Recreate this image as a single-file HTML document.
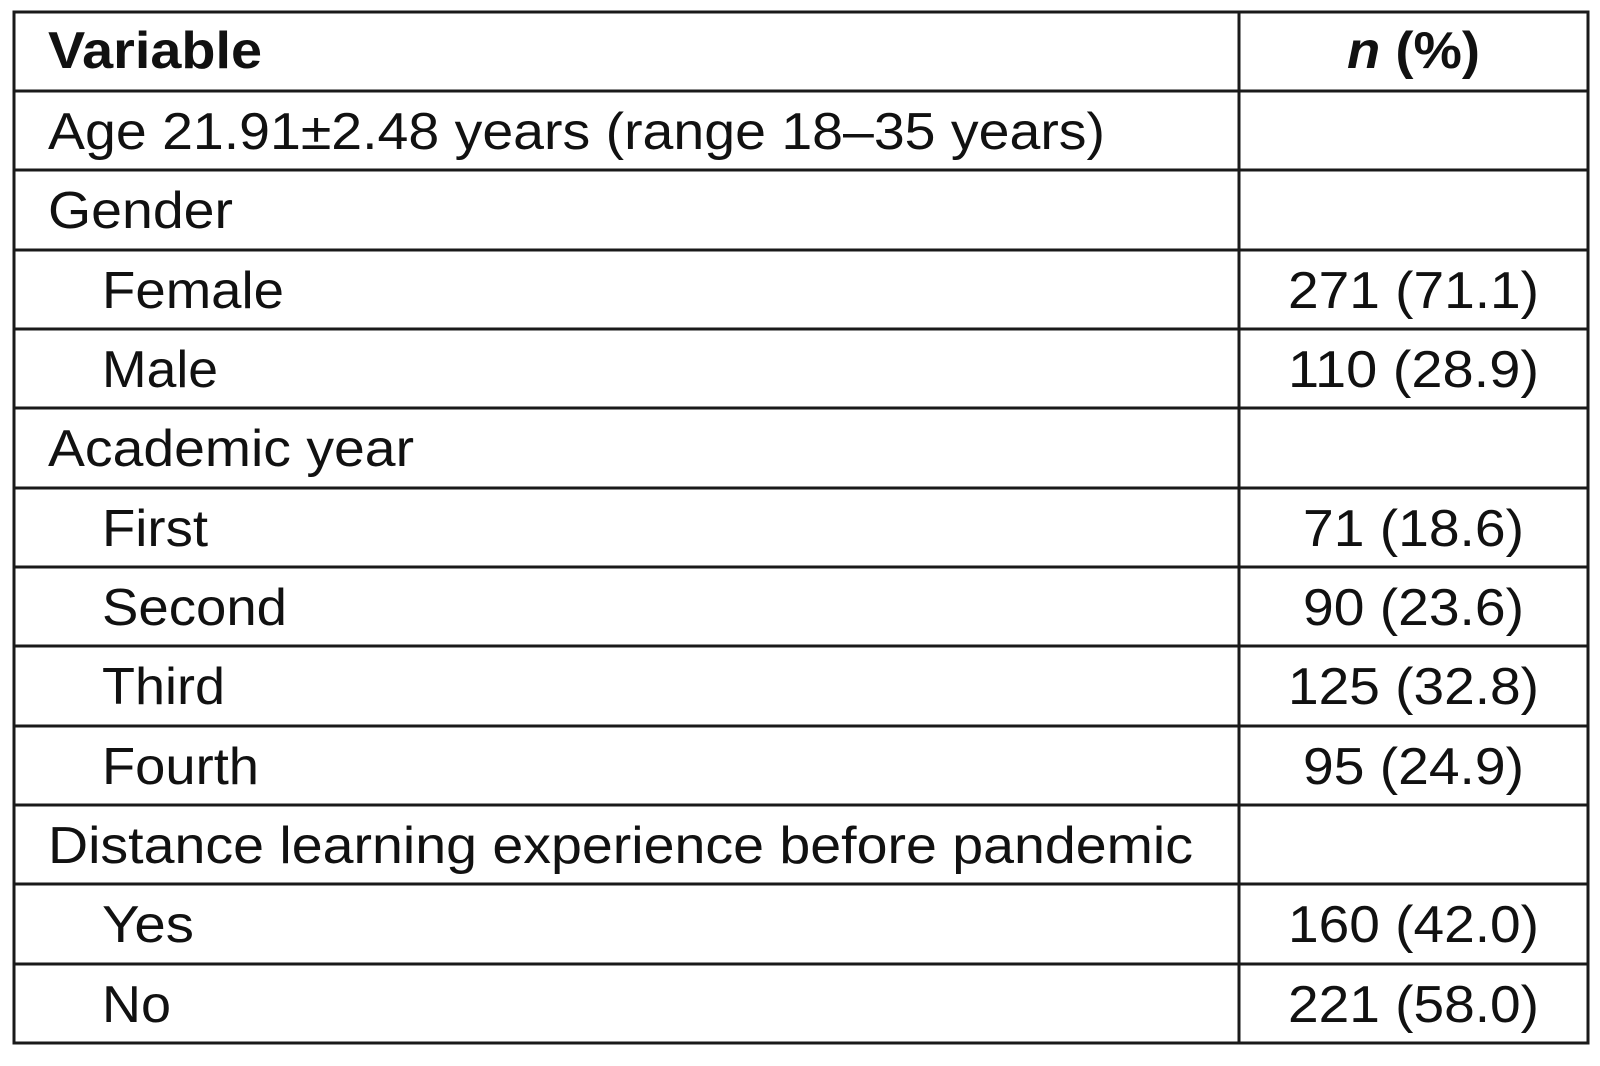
<!DOCTYPE html>
<html><head><meta charset="utf-8"><style>
html,body{margin:0;padding:0;background:#fff;}
svg{display:block}
text{font-family:"Liberation Sans",Arial,sans-serif;font-size:52px;fill:#111;}
</style></head><body>
<svg width="1600" height="1066" viewBox="0 0 1600 1066" xmlns="http://www.w3.org/2000/svg">
<rect x="0" y="0" width="1600" height="1066" fill="#fff"/>
<g stroke="#1a1a1a" stroke-width="3" fill="none">
<rect x="14" y="12" width="1574" height="1031"/>
<line x1="1239" y1="12" x2="1239" y2="1043"/>
<line x1="14" y1="91" x2="1588" y2="91"/>
<line x1="14" y1="170" x2="1588" y2="170"/>
<line x1="14" y1="250" x2="1588" y2="250"/>
<line x1="14" y1="329" x2="1588" y2="329"/>
<line x1="14" y1="408" x2="1588" y2="408"/>
<line x1="14" y1="488" x2="1588" y2="488"/>
<line x1="14" y1="567" x2="1588" y2="567"/>
<line x1="14" y1="646" x2="1588" y2="646"/>
<line x1="14" y1="726" x2="1588" y2="726"/>
<line x1="14" y1="805" x2="1588" y2="805"/>
<line x1="14" y1="884" x2="1588" y2="884"/>
<line x1="14" y1="964" x2="1588" y2="964"/>
</g>
<text x="48" y="68" font-weight="bold" textLength="214" lengthAdjust="spacingAndGlyphs">Variable</text>
<text x="1347" y="68" font-weight="bold" textLength="133" lengthAdjust="spacingAndGlyphs"><tspan font-style="italic">n</tspan> (%)</text>
<text x="48" y="149" textLength="1057" lengthAdjust="spacingAndGlyphs">Age 21.91±2.48 years (range 18–35 years)</text>
<text x="48" y="228" textLength="185" lengthAdjust="spacingAndGlyphs">Gender</text>
<text x="102" y="308" textLength="182" lengthAdjust="spacingAndGlyphs">Female</text>
<text x="102" y="387" textLength="116" lengthAdjust="spacingAndGlyphs">Male</text>
<text x="48" y="466" textLength="366" lengthAdjust="spacingAndGlyphs">Academic year</text>
<text x="102" y="546" textLength="106" lengthAdjust="spacingAndGlyphs">First</text>
<text x="102" y="625" textLength="185" lengthAdjust="spacingAndGlyphs">Second</text>
<text x="102" y="704" textLength="123" lengthAdjust="spacingAndGlyphs">Third</text>
<text x="102" y="784" textLength="157" lengthAdjust="spacingAndGlyphs">Fourth</text>
<text x="48" y="863" textLength="1145" lengthAdjust="spacingAndGlyphs">Distance learning experience before pandemic</text>
<text x="102" y="942" textLength="92" lengthAdjust="spacingAndGlyphs">Yes</text>
<text x="102" y="1022" textLength="69" lengthAdjust="spacingAndGlyphs">No</text>
<text x="1288" y="308" textLength="251" lengthAdjust="spacingAndGlyphs">271 (71.1)</text>
<text x="1288" y="387" textLength="251" lengthAdjust="spacingAndGlyphs">110 (28.9)</text>
<text x="1303" y="546" textLength="221" lengthAdjust="spacingAndGlyphs">71 (18.6)</text>
<text x="1303" y="625" textLength="221" lengthAdjust="spacingAndGlyphs">90 (23.6)</text>
<text x="1288" y="704" textLength="251" lengthAdjust="spacingAndGlyphs">125 (32.8)</text>
<text x="1303" y="784" textLength="221" lengthAdjust="spacingAndGlyphs">95 (24.9)</text>
<text x="1288" y="942" textLength="251" lengthAdjust="spacingAndGlyphs">160 (42.0)</text>
<text x="1288" y="1022" textLength="251" lengthAdjust="spacingAndGlyphs">221 (58.0)</text>
</svg>
</body></html>
